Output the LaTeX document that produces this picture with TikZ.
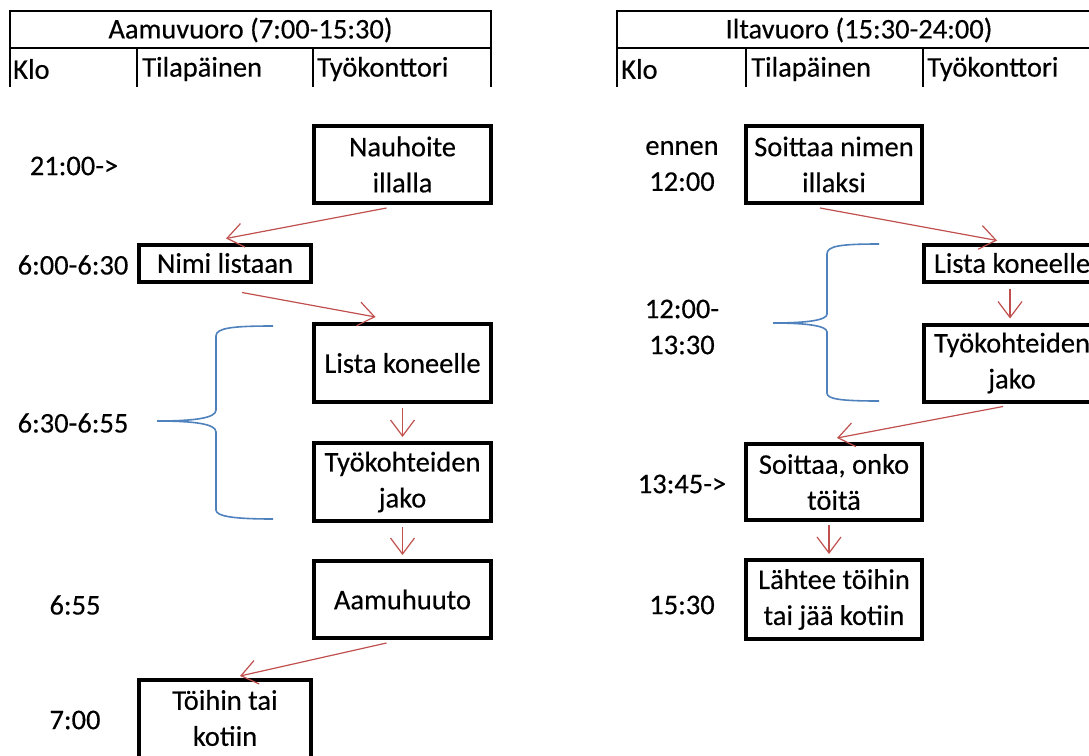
\documentclass[tikz,border=0pt]{standalone}
\usepackage{fontspec}
\setmainfont{Carlito}[FakeBold=0.3]
\usetikzlibrary{arrows.meta}
\definecolor{arred}{HTML}{C0504D}
\definecolor{brblue}{HTML}{4F81BD}
\begin{document}
\begin{tikzpicture}[x=1pt,y=-1pt,
  every node/.style={font=\fontsize{28.5}{36}\selectfont},
  box/.style={draw,line width=4pt,inner sep=0pt,align=center},
  lbl/.style={inner sep=0pt,align=center},
  cell/.style={inner sep=0pt,anchor=west},
  arr/.style={draw=arred,line width=1.2pt,-{Straight Barb[length=16pt,width=24pt,line width=1.2pt]}},
  brace/.style={draw=brblue,line width=1.6pt},
  tab/.style={draw,line width=1.5pt}]
\useasboundingbox (0,0) rectangle (1089,755);
\clip (0,0) rectangle (1089,755);
% left table
\draw[tab] (10,11) rectangle (491,48);
\draw[tab] (10,48) -- (10,87) (137,48) -- (137,87) (313,48) -- (313,87) (491,48) -- (491,87);
\node (hA) at (250.5,30) {Aamuvuoro (7:00-15:30)};
\node[cell] (hA1) at (13,69) {Klo};
\node[cell] (hA2) at (142,69) {Tilapäinen};
\node[cell] (hA3) at (317,69) {Työkonttori};
% right table
\draw[tab] (617,11) rectangle (1101,48);
\draw[tab] (617,48) -- (617,87) (746,48) -- (746,87) (923,48) -- (923,87);
\node (hI) at (859,30) {Iltavuoro (15:30-24:00)};
\node[cell] (hI1) at (621,69) {Klo};
\node[cell] (hI2) at (751,69) {Tilapäinen};
\node[cell] (hI3) at (927,69) {Työkonttori};
% left boxes
\node[box,minimum width=177pt,minimum height=77pt] (nauh) at (402.5,164.5) {Nauhoite\\illalla};
\node[box,minimum width=172pt,minimum height=37pt] (nimi) at (225,263) {Nimi listaan};
\node[box,minimum width=177pt,minimum height=78pt] (listaA) at (402.5,363) {Lista koneelle};
\node[box,minimum width=177pt,minimum height=78pt] (tyoA) at (402.5,482) {Työkohteiden\\jako};
\node[box,minimum width=177pt,minimum height=77pt] (aamu) at (402.5,599.5) {Aamuhuuto};
\node[box,minimum width=172pt,minimum height=110pt] (toihin) at (225,735) {};
\node[lbl] (toihinT) at (225,718) {Töihin tai\\kotiin};
% left time labels
\node[lbl] (t1) at (74,166) {21:00->};
\node[lbl] (t2) at (73,265) {6:00-6:30};
\node[lbl] (t3) at (73,423) {6:30-6:55};
\node[lbl] (t4) at (75,605) {6:55};
\node[lbl] (t5) at (75,720) {7:00};
% right boxes
\node[box,minimum width=176pt,minimum height=77pt] (soit) at (834,164.5) {Soittaa nimen\\illaksi};
\node[box,minimum width=176pt,minimum height=37pt] (listaI) at (1012,263) {Lista koneelle};
\node[box,minimum width=176pt,minimum height=77pt] (tyoI) at (1012,363) {Työkohteiden\\jako};
\node[box,minimum width=176pt,minimum height=76pt] (onko) at (834,482) {Soittaa, onko\\töitä};
\node[box,minimum width=176pt,minimum height=79pt] (laht) at (834,599.5) {Lähtee töihin\\tai jää kotiin};
% right time labels
\node[lbl] (r1) at (682,166) {ennen\\12:00};
\node[lbl] (r2) at (682,327) {12:00-\\13:30};
\node[lbl] (r3) at (682,484) {13:45->};
\node[lbl] (r4) at (682,605) {15:30};
% arrows left
\draw[arr] ([xshift=-16pt,yshift=-3pt]nauh.south) -- ([xshift=1pt,yshift=4pt]nimi.north);
\draw[arr] ([xshift=17pt,yshift=-9pt]nimi.south) -- ([xshift=-27pt,yshift=5pt]listaA.north);
\draw[arr] ([yshift=-4pt]listaA.south) -- ([yshift=4pt]tyoA.north);
\draw[arr] ([yshift=-4pt]tyoA.south) -- ([yshift=4pt]aamu.north);
\draw[arr] ([xshift=-16pt,yshift=-3pt]aamu.south) -- ([xshift=15pt,yshift=2pt]toihin.north);
% arrows right
\draw[arr] ([xshift=-14pt,yshift=-3pt]soit.south) -- ([xshift=-15pt,yshift=2pt]listaI.north);
\draw[arr] ([xshift=-2pt,yshift=-5pt]listaI.south) -- ([xshift=-2pt,yshift=4pt]tyoI.north);
\draw[arr] ([xshift=-9pt,yshift=-3pt]tyoI.south) -- ([xshift=3pt,yshift=4pt]onko.north);
\draw[arr] ([xshift=-5pt,yshift=-3pt]onko.south) -- ([xshift=-5pt,yshift=4pt]laht.north);
% braces
\coordinate (bAt) at (157,421);
\draw[brace] (273,326) .. controls (232,326) and (216,328) .. (216,336) -- (216,410)
  .. controls (216,418) and (195,421) .. (bAt)
  .. controls (195,421) and (216,424) .. (216,432) -- (216,510)
  .. controls (216,516) and (232,519) .. (273,519);
\coordinate (bIt) at (773,323);
\draw[brace] (879,244) .. controls (840,244) and (827,246) .. (827,254) -- (827,314)
  .. controls (827,320) and (808,323) .. (bIt)
  .. controls (808,323) and (827,326) .. (827,332) -- (827,393)
  .. controls (827,399) and (840,401) .. (879,401);
\end{tikzpicture}
\end{document}
